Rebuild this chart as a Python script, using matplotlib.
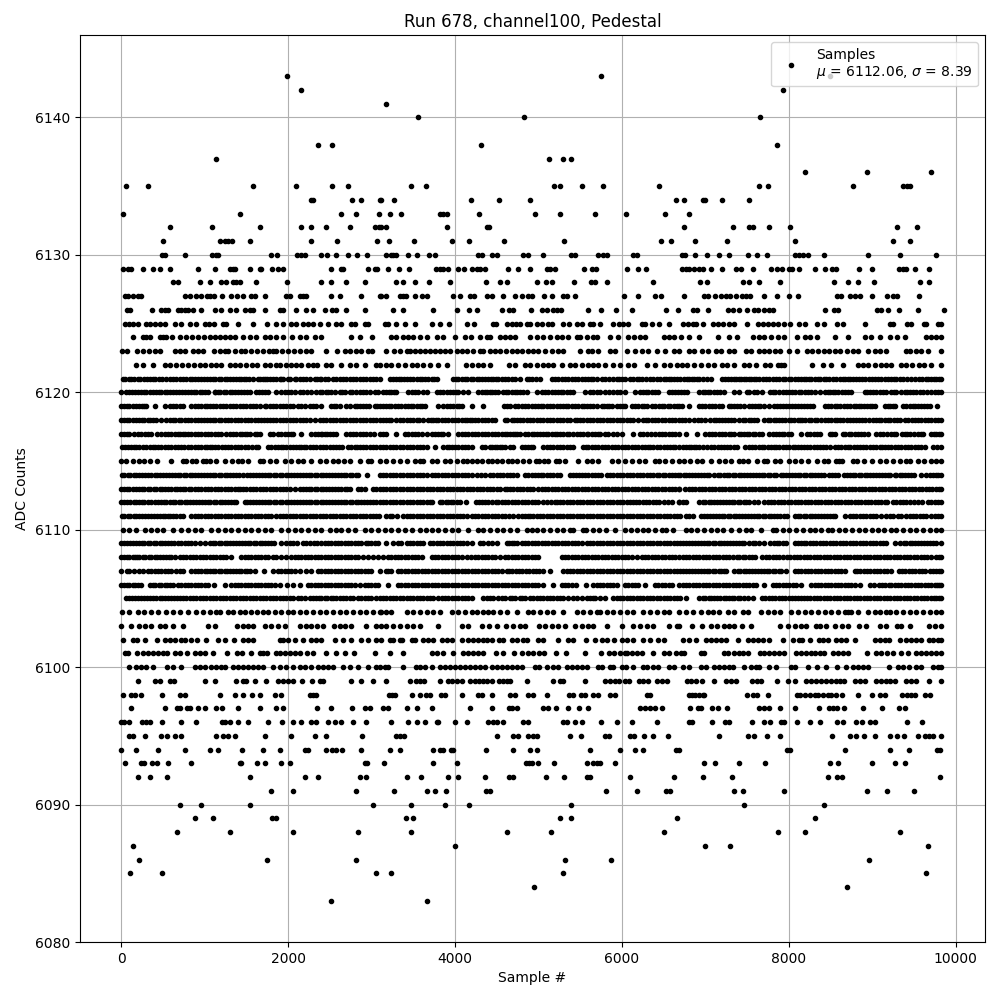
import matplotlib
matplotlib.use("Agg")
import matplotlib.pyplot as plt

# Visible dots of each ADC level, in tens of samples.
# Overlapping dots in the dense band cannot be told apart, so those rows are estimates.
SAMPLE_UNIT = 10
row_6143 = [199,575,849]
row_6142 = [216,793]
row_6141 = [317]
row_6140 = [356,483,766]
row_6138 = [236,253,431,786]
row_6137 = [114,513,530,539]
row_6136 = [819,894,970]
row_6135 = [6,32,158,210,253,272,347,365,519,526,552,578,645,765,775,877,937,942,946]
row_6134 = [227,230,277,288,310,312,327,419,453,490,665,674,697,700,720,753]
row_6133 = [2,143,263,282,309,322,335,382,386,391,429,496,526,568,605,652,680]
row_6132 = [58,109,167,216,227,246,274,304,309,312,318,390,438,441,675,733,752,757,777,802,930,954]
row_6131 = [50,119,124,128,133,155,227,259,307,321,351,396,417,459,531,647,659,688,726,807,925,945]
row_6130 = [49,52,77,109,114,116,180,187,211,216,220,239,247,257,272,283,295,317,323,326,330,344,354,369,376,428,432,444,450,482,488,506,539,544,572,578,582,614,618,672,676,688,702,717,728,751,762,774,807,812,817,823,842,895,933,976]
row_6129 = [2,8,12,26,38,46,59,92,112,130,134,137,154,166,168,181,188,194,251,263,266,296,304,307,320,333,345,377,382,386,392,404,411,420,426,430,436,464,476,490,510,514,520,555,564,569,606,620,629,672,677,680,687,692,697,707,720,737,743,757,779,786,792,800,804,812,832,844,852,857,884,900,932,937,941,952,968]
row_6128 = [62,68,95,106,120,126,134,138,143,162,199,240,251,269,292,330,338,352,369,394,437,454,462,498,509,516,543,563,568,582,638,694,702,745,753,765,790,854,871,883,902,957,968]
row_6127 = [5,8,14,20,24,76,82,90,96,103,106,111,121,132,139,146,156,161,172,197,202,214,218,222,251,262,287,310,312,318,334,338,341,352,360,366,398,406,418,423,438,445,458,472,480,488,492,507,516,530,534,544,603,620,640,647,674,699,703,712,719,725,730,737,744,749,754,771,786,801,811,858,863,873,879,885,900,918,925,930,956]
row_6126 = [7,11,37,48,52,56,68,72,76,80,86,96,112,120,131,138,149,155,158,173,190,194,210,222,230,244,253,257,269,292,326,338,374,402,417,426,456,465,470,491,504,510,518,522,527,560,575,593,612,653,667,685,690,703,727,733,740,750,759,763,770,776,781,843,854,859,906,911,919,932,955,986]
row_6125 = [5,10,14,20,30,34,41,47,53,65,72,82,90,101,105,111,122,126,140,158,175,185,194,204,210,218,224,230,238,248,257,263,275,280,292,296,316,320,330,340,352,372,382,393,414,423,446,449,462,468,473,478,486,490,498,504,512,516,530,537,546,552,562,566,574,590,597,602,608,624,628,636,645,657,673,679,685,689,697,709,715,721,728,735,750,763,769,775,781,787,794,802,812,819,834,842,858,865,891,921,925,942,947,962,965,979,983]
row_6124 = [14,26,30,34,46,50,54,61,70,78,85,92,99,106,113,119,124,130,137,146,154,162,172,178,186,194,205,214,221,232,240,275,286,301,324,330,338,344,350,358,366,378,386,400,412,419,430,438,442,454,460,466,472,490,498,506,514,522,528,535,546,550,558,566,570,586,596,608,615,622,628,650,656,662,671,681,692,715,729,738,757,764,771,779,787,795,810,819,825,834,856,871,891,899,909,921,930,939,964,971,977,983]
row_6123 = [1,7,19,26,33,40,47,65,70,76,86,92,98,111,118,124,128,136,144,149,156,163,170,177,182,186,193,200,207,214,221,228,245,259,268,274,281,288,296,301,317,327,334,342,346,352,358,364,370,376,382,388,394,402,408,414,422,430,434,442,448,454,461,469,475,481,488,494,500,508,516,524,530,550,560,564,572,586,592,606,616,624,632,642,652,662,669,681,687,696,703,713,719,728,735,749,755,764,771,777,784,790,801,810,822,828,835,842,848,855,862,870,877,883,895,903,909,917,941,945,953,959,967,983]
row_6122 = [18,26,38,52,59,66,73,80,87,94,100,108,114,120,130,136,142,150,157,163,172,179,185,190,197,203,210,216,224,230,235,245,252,263,274,282,292,306,310,318,324,332,340,348,354,362,370,380,391,413,420,428,434,442,465,472,484,490,498,506,512,518,528,538,544,552,560,566,572,580,590,598,608,615,630,640,650,658,666,672,678,687,695,703,710,720,726,735,747,753,761,772,778,787,795,791,828,841,851,865,883,889,895,903,911,917,923,935,941,948,956,962,971,983]
row_6121 = [2,9,16,23,31,38,45,49,54,62,70,74,78,85,92,99,106,113,120,127,134,141,147,153,164,170,175,182,186,190,194,202,208,210,218,226,235,240,248,254,262,270,278,286,294,302,310,322,330,336,342,350,358,364,372,378,398,404,412,419,426,432,440,446,452,460,468,478,486,492,502,516,524,532,540,548,556,560,566,576,585,594,600,610,618,624,634,642,650,656,662,670,678,684,690,697,707,720,727,735,740,746,752,758,765,773,777,785,793,800,807,815,821,827,835,842,848,857,865,871,877,884,892,900,907,915,923,929,937,947,956,964,971,977,983]
fill_6121 = [5,12,20,27,34,41,58,66,82,89,96,103,110,117,124,131,138,144,150,158,167,172,178,192,200,214,222,232,238,244,258,266,274,282,290,298,306,326,333,339,346,354,361,368,375,401,408,415,422,429,436,443,449,456,464,472,489,497,520,528,536,544,552,563,570,580,590,597,604,614,621,629,638,646,653,659,666,674,681,687,693,702,724,731,737,743,749,755,761,769,781,789,796,803,811,818,824,831,838,845,853,861,868,874,881,888,896,903,911,919,926,933,942,952,960,967,974,980]
row_6120 = [0,6,13,20,27,34,42,48,55,62,69,76,84,90,97,104,112,112,119,126,133,140,147,155,162,169,176,186,192,200,208,214,223,234,238,245,252,262,268,274,277,286,294,304,314,318,324,330,344,352,366,378,386,390,398,404,416,428,436,442,448,458,464,472,478,486,498,504,512,520,527,534,542,556,562,570,580,590,598,604,616,622,629,636,644,656,664,671,678,693,700,706,714,722,735,741,753,762,768,778,784,789,797,804,812,819,827,837,847,853,859,867,875,891,897,905,913,923,929,939,945,953,961,970,975,983]
fill_6120 = [10,17,24,30,38,45,52,59,66,73,80,87,94,101,116,123,130,137,144,151,165,172,196,204,218,228,241,248,256,265,282,290,298,308,321,327,348,356,362,382,394,401,410,432,439,445,452,461,468,475,482,508,516,523,530,538,566,574,585,594,626,632,640,660,667,675,697,703,710,718,750,758,781,793,800,808,815,823,831,843,850,856,864,871,894,901,909,917,926,935,942,949,957,966,979]
row_6119 = [0,7,14,21,28,30,41,52,58,66,74,84,92,96,100,106,114,122,130,138,146,154,162,172,178,186,194,202,212,220,226,234,240,251,258,262,270,280,286,294,304,310,318,321,328,336,344,350,358,364,380,386,394,402,408,420,434,459,466,476,484,492,500,506,514,522,530,536,544,552,558,566,576,582,588,598,604,616,624,630,640,645,651,658,666,672,680,692,700,708,716,728,734,742,752,760,766,776,786,793,800,808,815,822,829,843,847,855,862,870,878,884,890,897,903,916,922,928,937,945,949,955,962,969,978]
fill_6119 = [4,10,18,25,62,70,88,103,110,118,126,134,142,150,158,166,174,182,190,198,206,216,230,255,274,283,290,297,307,314,324,332,340,347,354,361,390,398,405,462,472,480,488,496,503,510,518,526,533,540,548,555,562,570,579,585,594,601,612,620,627,636,648,655,662,669,696,704,712,720,731,738,746,756,763,771,782,790,797,804,811,818,826,851,858,866,874,881,887,894,900,919,925,941,952,959,966]
row_6118 = [0,7,14,21,28,35,42,48,54,62,69,76,84,92,99,106,113,120,128,136,144,152,160,168,171,178,186,194,202,210,218,226,232,238,246,254,262,270,278,286,294,302,310,318,324,330,338,342,350,357,368,374,380,388,396,404,412,418,424,432,440,448,460,462,468,474,482,490,498,506,514,522,530,538,544,546,554,562,570,578,586,594,602,610,620,625,632,640,648,656,664,672,680,687,695,700,706,713,720,727,735,741,748,755,762,771,778,785,792,800,806,811,813,820,827,834,839,843,851,858,865,870,877,884,892,901,905,911,919,926,934,943,948,955,963,971,979,983]
fill_6118 = [4,10,18,25,32,38,58,65,72,80,88,96,103,110,117,124,132,140,148,156,164,175,182,190,198,206,214,222,242,250,258,266,274,282,290,298,306,314,321,334,346,354,362,371,377,384,392,400,408,415,421,428,436,444,471,478,486,494,502,510,518,526,534,550,558,566,574,582,590,598,606,614,629,636,644,652,660,668,676,691,710,717,724,731,745,752,759,775,782,789,796,803,816,824,831,847,855,862,874,881,888,896,908,915,922,930,939,952,959,967,975]
row_6117 = [0,7,10,16,24,29,36,43,48,52,60,68,74,80,84,92,100,108,116,126,134,142,148,154,160,166,178,188,192,200,206,216,228,232,239,244,250,257,270,278,286,294,303,310,318,330,340,348,356,366,372,380,386,392,404,412,420,428,436,444,452,460,466,472,478,484,492,498,506,512,520,522,530,537,542,550,558,560,568,574,580,590,600,614,622,630,640,645,652,660,668,677,690,700,704,712,720,728,735,740,746,753,760,768,777,781,788,795,803,815,822,830,838,849,855,865,868,875,883,890,895,905,913,923,929,939,945,955,961,971,977,983]
fill_6117 = [4,20,32,56,64,70,77,88,96,104,112,120,130,138,145,151,163,182,196,203,236,241,247,254,274,282,290,298,314,344,352,360,376,383,408,416,424,432,440,448,456,463,470,475,488,495,502,509,516,526,534,546,554,564,571,584,594,626,635,648,656,664,708,716,724,731,743,750,757,764,785,792,799,826,834,852,872,880,887,910,918,926,936,942,950,958,974,980]
row_6116 = [1,8,15,22,30,38,44,52,60,68,75,84,92,100,106,112,121,128,136,144,152,162,164,176,180,188,194,202,210,216,222,230,238,246,250,258,265,272,280,286,294,302,310,318,326,334,342,350,358,366,376,386,390,396,404,412,416,421,432,442,448,454,460,466,470,480,488,494,506,510,518,526,534,542,553,560,568,576,584,592,600,608,616,624,628,634,642,650,658,664,669,677,683,689,697,707,715,723,730,738,748,756,764,771,779,785,793,801,808,815,822,830,837,845,855,863,871,878,885,893,901,909,915,919,927,935,943,951,959,963,973,982]
fill_6116 = [5,12,18,26,34,41,48,56,64,72,80,88,96,103,109,116,125,132,140,148,157,184,191,198,206,213,219,226,234,242,254,261,276,283,290,298,306,314,322,330,338,346,354,362,393,400,408,436,445,451,457,484,491,514,522,530,538,557,564,572,580,588,596,604,612,620,631,638,646,654,661,673,680,686,693,702,711,719,726,734,752,760,768,775,782,789,797,805,811,818,826,834,841,849,859,867,874,882,889,897,905,912,923,931,939,947,955,978]
row_6115 = [0,6,14,22,28,35,43,60,74,78,85,90,98,102,106,114,125,133,140,145,152,166,170,178,186,196,204,212,218,228,238,245,254,260,267,274,286,296,300,310,318,326,334,342,352,358,362,372,378,388,394,402,410,414,421,426,433,440,445,451,456,464,468,475,482,489,497,501,507,512,521,525,532,547,558,564,572,588,595,604,612,621,628,640,645,652,660,668,675,682,690,696,707,716,724,731,740,745,751,762,771,774,784,790,800,808,815,823,834,842,847,857,860,864,877,882,890,900,910,917,925,933,941,946,955,962,970,977,982]
row_6114 = [1,8,15,22,29,36,43,50,57,64,71,78,85,92,99,106,113,120,127,134,141,146,151,158,165,172,179,186,193,200,207,214,221,228,235,242,249,256,263,270,277,284,295,310,318,326,334,342,350,358,366,372,380,388,396,404,412,420,426,436,442,450,458,466,474,484,492,496,503,510,518,526,538,545,552,560,568,575,582,590,598,606,614,622,630,638,645,652,660,664,670,677,684,691,698,705,711,715,722,729,736,743,750,757,764,771,778,785,791,793,800,807,814,821,828,835,842,848,855,859,866,873,880,887,894,901,908,915,922,927,929,936,943,950,959,965,977,979,983]
fill_6114 = [4,11,18,25,32,40,47,54,61,68,75,82,89,96,103,110,117,124,131,138,155,162,169,176,183,190,197,204,211,218,225,232,239,246,253,260,267,274,281,314,322,330,338,346,354,362,376,384,392,400,408,416,431,446,454,462,470,488,499,506,514,522,542,549,556,564,572,586,594,602,610,618,626,634,642,649,656,667,674,681,688,695,702,718,726,733,740,747,754,761,768,775,782,797,804,811,818,825,832,839,852,870,877,884,891,898,905,912,919,933,940,947,969,973]
row_6113 = [0,7,14,21,28,35,42,49,56,64,67,74,81,88,96,100,108,116,124,132,140,143,150,158,166,174,182,186,194,202,214,221,228,235,242,249,256,263,268,274,284,292,302,310,318,326,334,342,350,358,366,374,382,390,394,398,406,414,422,430,438,446,454,460,462,470,478,486,494,500,508,516,524,532,540,548,556,564,572,580,588,596,604,612,620,628,636,644,652,660,668,669,676,684,692,700,708,716,724,732,740,748,756,764,772,780,788,796,804,812,820,828,836,844,852,860,868,876,884,892,900,908,916,924,932,940,948,956,964,972,983]
fill_6113 = [3,10,18,25,32,39,46,52,60,70,77,84,92,104,112,120,128,136,146,154,162,170,178,190,198,208,218,225,232,239,246,253,260,271,288,306,314,322,330,338,346,354,362,370,378,386,402,410,418,426,434,442,450,466,474,482,490,504,512,520,528,536,544,552,560,568,576,584,592,600,608,616,624,632,640,648,656,664,680,688,696,704,712,720,728,736,744,752,760,768,776,784,792,800,808,816,824,832,840,848,856,864,872,880,888,896,904,912,920,928,936,944,952,960,968,976,980]
row_6112 = [0,7,15,18,25,32,40,48,51,58,65,72,79,86,93,100,107,114,121,128,135,138,148,151,158,165,172,179,186,193,200,207,214,221,228,235,242,249,256,263,270,277,284,291,298,305,310,318,322,330,338,346,354,362,370,372,382,385,392,398,406,413,425,432,440,445,452,460,468,476,484,492,500,510,520,522,530,538,546,554,562,570,578,586,594,602,610,617,625,633,641,650,660,668,669,677,692,697,704,711,718,725,732,739,746,753,763,771,779,787,795,803,811,819,827,835,843,851,859,867,875,883,891,899,907,915,918,925,933,941,950,960,967,975,983]
fill_6112 = [4,11,21,28,36,44,54,62,69,76,83,90,97,104,111,118,125,132,154,162,169,176,183,190,197,204,211,218,225,232,239,246,253,260,267,274,281,288,295,302,314,326,334,342,350,358,366,389,395,402,429,436,449,456,464,472,480,488,496,505,515,526,534,542,550,558,566,574,582,590,598,606,613,621,629,637,645,655,673,700,707,714,721,728,735,742,749,758,775,783,791,799,807,815,823,831,839,847,855,863,871,879,887,895,903,911,929,937,945,955,971,979]
row_6111 = [1,8,15,22,29,36,43,50,56,59,66,74,84,92,100,108,116,124,132,140,148,156,164,172,180,186,194,202,210,218,226,234,242,250,258,266,274,282,290,298,306,309,318,325,331,338,342,350,358,366,374,382,390,398,406,414,420,428,436,444,452,460,470,476,484,488,490,498,506,514,522,530,538,546,554,562,570,578,586,594,602,610,618,626,634,642,650,658,666,670,677,685,695,702,709,716,723,730,737,744,751,758,765,772,779,786,795,798,807,814,821,828,835,842,849,856,867,873,881,889,897,905,917,921,931,941,949,957,965,975,983]
fill_6111 = [4,11,18,25,32,39,47,53,62,70,88,96,104,112,120,128,136,144,152,160,168,176,190,198,206,214,222,230,238,246,254,262,270,278,286,294,302,322,346,354,362,370,378,386,394,402,410,424,432,440,448,456,465,480,494,502,510,518,526,534,542,550,558,566,574,582,590,598,606,614,622,630,638,646,654,662,681,699,706,713,720,727,734,741,748,755,762,769,776,783,790,811,818,825,832,839,846,853,877,885,893,901,911,925,935,945,953,961,970,979]
row_6110 = [2,9,18,29,36,43,50,62,72,80,88,96,108,116,124,132,140,148,156,164,172,180,192,200,208,216,224,232,240,250,257,264,272,280,292,300,308,316,324,332,340,348,358,365,372,380,388,396,404,416,428,434,442,450,458,466,474,486,492,498,506,514,522,530,538,542,554,557,565,573,581,592,604,611,618,625,632,640,648,653,661,677,683,690,698,707,714,721,731,741,749,755,767,781,785,793,801,809,817,825,831,839,847,852,860,868,876,884,892,900,907,914,923,929,937,945,953,961,969,977,983]
row_6109 = [0,7,14,21,28,35,42,49,56,63,68,72,80,88,94,100,106,113,120,127,134,141,148,155,162,169,176,183,192,197,206,211,218,226,231,240,248,256,264,272,280,287,293,300,308,318,326,332,342,350,354,362,370,378,386,394,402,410,420,430,434,445,450,462,468,474,480,488,496,504,512,520,528,536,544,552,558,566,574,582,590,598,606,614,622,630,638,646,654,662,670,677,684,691,698,705,712,719,726,733,740,747,753,760,770,778,783,789,797,807,815,821,829,837,845,853,861,869,877,885,893,901,909,917,927,934,941,948,955,962,969,977,983]
fill_6109 = [4,11,18,25,32,39,46,53,60,76,84,110,117,124,131,138,145,152,159,166,173,180,202,222,235,244,252,260,268,276,284,296,304,336,346,358,374,382,390,398,406,414,440,465,471,484,492,500,508,516,524,532,540,548,562,570,578,586,594,602,610,618,626,634,642,650,658,666,673,681,688,695,702,709,716,723,730,737,744,757,765,786,793,811,818,825,833,841,849,857,865,873,881,889,897,905,913,938,945,952,959,966,973]
row_6108 = [0,7,14,19,22,29,36,43,50,57,64,70,78,86,94,102,110,118,126,132,144,152,160,168,176,186,192,198,204,212,220,228,236,244,252,260,268,276,284,290,296,302,308,314,320,328,336,344,352,360,372,380,388,396,404,414,424,432,440,448,454,460,468,476,484,492,500,528,536,544,552,560,568,576,584,592,600,608,612,618,624,632,640,648,656,664,669,677,685,693,701,709,717,725,733,738,745,752,760,768,773,781,788,793,798,806,814,822,830,838,846,854,862,870,878,886,894,902,910,918,926,934,942,950,958,966,983]
fill_6108 = [3,10,17,26,33,40,47,54,60,74,82,90,98,106,114,122,148,156,164,172,182,208,216,224,232,240,248,256,264,272,280,324,332,340,348,356,376,384,392,400,409,419,428,436,444,464,472,480,488,496,532,540,548,556,564,572,580,588,596,604,628,636,644,652,660,673,681,689,697,705,713,721,729,741,748,756,777,785,802,810,818,826,834,842,850,858,866,874,882,890,898,906,914,922,930,938,946,954,962,970,976,980]
row_6107 = [0,7,10,16,22,26,32,40,48,56,60,66,74,84,92,100,106,113,120,127,134,141,148,155,160,171,182,188,196,204,214,222,228,236,244,252,260,268,276,284,292,300,310,318,320,332,340,348,356,364,372,380,388,396,404,412,420,428,436,444,452,462,465,473,481,489,497,505,514,530,538,546,554,562,570,578,586,594,602,610,618,626,634,642,650,658,666,670,677,684,691,698,705,712,719,725,735,742,749,756,763,770,777,784,791,797,807,815,823,831,839,847,855,863,868,879,882,890,898,906,914,923,932,940,948,956,963,969,977,983]
fill_6107 = [36,44,52,70,88,96,103,110,117,124,131,138,144,151,192,200,208,240,248,256,264,272,280,288,296,324,336,344,352,360,368,376,384,392,400,408,416,424,432,440,448,456,469,477,485,493,501,534,542,550,558,566,574,582,590,598,606,614,622,630,638,646,654,662,673,681,688,695,702,709,716,722,739,746,753,760,767,774,781,788,811,819,827,835,843,851,859,886,894,902,910,918,936,944,952,960,973,980]
row_6106 = [0,7,14,20,24,34,41,48,55,62,68,72,80,88,96,104,111,124,132,136,144,152,160,168,176,184,190,199,206,214,224,232,240,248,256,264,272,280,286,292,300,308,320,332,340,348,356,364,372,380,388,396,404,412,420,428,436,444,452,460,468,476,484,492,500,506,518,528,536,545,557,565,570,578,586,594,604,612,620,628,640,644,652,660,669,677,685,693,701,709,717,725,733,737,745,753,761,771,781,785,793,801,809,815,827,835,843,851,859,867,875,886,898,908,916,923,931,939,947,955,963,971,978,983]
fill_6106 = [4,10,17,38,45,52,59,76,84,92,100,140,148,156,164,172,180,228,236,244,252,260,268,276,296,304,336,344,352,360,368,376,384,392,400,408,416,424,432,440,448,456,464,472,480,488,496,532,540,574,582,590,608,616,648,656,673,681,689,697,705,713,721,729,741,749,757,789,797,805,831,839,847,855,863,871,879,902,912,920,927,935,943,951,959,967,975,980]
row_6105 = [6,13,20,27,34,42,49,56,63,70,78,86,94,102,110,118,126,134,142,150,158,166,174,182,190,198,206,212,220,226,233,240,247,254,262,270,278,284,292,300,310,318,326,334,342,350,358,366,374,380,388,396,404,412,420,434,438,446,452,460,466,472,478,484,490,498,506,514,522,530,536,542,552,558,566,568,574,580,590,598,606,614,622,630,638,646,654,662,670,677,693,700,707,714,722,728,735,742,751,757,768,776,784,792,800,808,815,818,826,834,842,850,858,866,874,882,890,898,906,914,922,930,938,946,954,962,970,977,983]
fill_6105 = [10,17,24,31,38,46,53,60,67,74,82,90,98,106,114,122,130,138,146,154,162,170,178,186,194,202,216,230,237,244,251,258,266,274,288,296,305,314,322,330,338,346,354,362,370,384,392,400,408,416,442,456,469,481,494,502,510,518,526,546,562,594,602,610,618,626,634,642,650,658,666,697,704,711,718,725,732,739,746,772,780,788,796,804,811,822,830,838,846,854,862,870,878,886,894,902,910,918,926,934,942,950,958,966,974,980]
row_6104 = [1,9,20,28,36,44,54,62,70,80,90,98,106,114,118,128,134,142,148,156,163,170,176,184,192,200,206,214,222,230,238,246,254,262,270,278,286,294,302,310,312,318,324,342,350,358,366,374,382,396,404,412,420,426,434,440,446,454,462,474,488,494,502,510,518,530,546,554,562,570,574,582,590,598,606,614,626,634,642,650,656,669,677,685,695,703,709,717,727,735,745,751,767,775,783,790,803,811,819,827,835,843,851,859,867,871,875,883,895,903,909,917,921,929,937,945,953,961,969,977,983]
row_6103 = [0,12,22,29,36,46,53,62,74,104,112,139,146,152,158,173,180,188,196,214,221,228,235,242,255,262,268,276,294,306,312,318,326,334,342,350,358,380,408,416,432,441,450,461,470,478,484,501,508,516,524,532,544,552,560,566,582,600,614,622,630,638,656,666,669,684,696,707,714,722,729,735,744,755,790,799,807,815,821,833,837,845,856,864,871,884,893,909,917,930,935,945,968,975,982]
row_6102 = [2,14,19,29,43,53,58,64,72,76,84,91,102,116,125,135,146,152,158,190,194,200,208,218,227,233,239,256,266,276,287,296,306,312,322,326,334,337,348,352,362,368,374,384,390,396,408,416,422,428,434,438,444,453,458,468,474,482,486,500,506,524,536,542,557,568,576,582,591,600,606,614,626,634,644,651,673,681,689,701,707,713,719,725,739,751,757,763,769,777,793,805,812,816,826,836,841,847,857,863,869,880,904,909,915,920,933,941,947,953,958,968,973,979,983]
row_6101 = [5,8,19,26,32,38,44,50,55,64,70,79,89,94,100,110,127,139,145,156,166,170,175,185,190,196,202,208,214,223,230,246,257,268,279,304,322,338,372,378,386,398,410,416,422,428,434,449,458,471,481,488,494,501,507,521,533,556,575,585,591,598,604,606,612,618,624,638,650,656,665,671,675,695,699,723,727,734,740,745,751,766,771,777,783,789,795,809,815,821,827,832,837,842,853,859,865,871,894,905,911,918,925,935,943,953,959,965,971,977,983]
row_6100 = [9,18,24,30,38,55,62,72,88,95,100,108,114,120,125,134,140,146,152,158,164,170,182,190,197,206,214,220,227,236,242,248,254,266,274,284,296,306,310,316,320,338,353,358,364,372,382,388,394,400,406,412,418,424,430,436,444,450,456,462,468,474,480,496,501,510,518,524,534,540,546,552,558,572,576,586,590,600,605,614,626,630,638,644,657,663,673,681,695,701,711,717,723,729,733,747,755,761,765,777,785,803,807,823,834,845,858,869,877,883,889,895,920,931,937,944,953,959,973,979,983]
row_6099 = [20,40,46,58,63,101,112,138,146,150,160,174,188,194,200,206,217,229,238,242,276,288,302,318,346,353,358,363,382,392,396,402,408,424,418,429,434,438,444,453,458,462,466,486,518,526,530,556,580,586,592,597,604,609,621,626,631,642,648,654,678,683,689,696,711,725,731,737,756,762,767,786,799,808,821,827,833,839,845,851,857,861,866,880,886,891,905,911,917,922,927,941,947,953,968,982]
row_6098 = [2,12,17,24,49,70,77,119,136,146,157,167,184,192,226,230,234,321,325,328,348,358,365,370,383,388,408,428,432,444,466,472,488,494,510,537,542,551,556,566,572,586,592,630,634,684,681,688,692,697,699,750,757,762,775,810,814,820,825,831,835,841,847,851,857,864,883,900,909,916,936,942,947,952,963,969]
row_6097 = [12,52,67,70,79,83,92,100,114,121,140,167,185,194,235,251,277,292,298,314,320,342,354,372,418,444,465,468,474,506,512,521,536,549,560,622,628,634,640,648,682,691,695,708,715,726,765,771,776,790,808,836,848,853,858,866,889,912,932,939]
row_6096 = [0,4,9,25,30,34,49,72,90,121,124,130,140,152,176,193,206,216,228,233,248,256,263,278,293,324,344,354,364,378,380,400,414,440,446,450,458,482,488,530,534,544,552,575,594,612,642,680,684,708,724,728,756,771,778,791,795,810,825,838,858,865,881,888,898,903,942,960]
row_6095 = [10,14,29,48,55,64,72,114,122,128,137,173,204,232,245,289,330,334,339,450,470,476,488,494,498,538,551,580,585,610,615,627,638,655,717,751,758,774,790,852,874,881,890,903,921,930,938,955,963,968,973,982]
row_6094 = [0,18,44,77,106,116,145,170,190,220,224,246,253,258,265,287,322,334,374,382,386,395,398,437,470,490,498,562,598,616,626,665,668,798,802,868,922,944,978,981]
row_6093 = [5,24,27,37,43,56,84,142,144,163,173,192,202,292,295,315,374,402,485,489,492,500,519,558,566,570,574,592,698,712,741,772,850,859,900,927,940]
row_6092 = [20,34,55,155,220,236,286,293,342,359,392,404,436,465,470,509,531,558,562,610,663,697,732,847,858,864,981]
row_6091 = [180,206,281,327,366,376,389,437,442,581,618,653,658,735,745,795,894,918,950]
row_6090 = [71,96,155,302,347,388,417,539,747,842]
row_6089 = [88,110,181,186,341,350,526,539,666,832]
row_6088 = [67,131,206,284,347,462,515,651,787,820,934]
row_6087 = [14,400,700,730,967]
row_6086 = [22,175,281,532,587,896]
row_6085 = [11,49,306,323,530,964]
row_6084 = [495,870]
row_6083 = [252,366]

ADC_LEVELS = {
    6143: row_6143, 6142: row_6142, 6141: row_6141, 6140: row_6140, 6138: row_6138,
    6137: row_6137, 6136: row_6136, 6135: row_6135, 6134: row_6134, 6133: row_6133,
    6132: row_6132, 6131: row_6131, 6130: row_6130, 6129: row_6129, 6128: row_6128,
    6127: row_6127, 6126: row_6126, 6125: row_6125, 6124: row_6124, 6123: row_6123,
    6122: row_6122, 6121: row_6121 + fill_6121, 6120: row_6120 + fill_6120,
    6119: row_6119 + fill_6119, 6118: row_6118 + fill_6118, 6117: row_6117 + fill_6117,
    6116: row_6116 + fill_6116, 6115: row_6115, 6114: row_6114 + fill_6114,
    6113: row_6113 + fill_6113, 6112: row_6112 + fill_6112, 6111: row_6111 + fill_6111,
    6110: row_6110, 6109: row_6109 + fill_6109, 6108: row_6108 + fill_6108,
    6107: row_6107 + fill_6107, 6106: row_6106 + fill_6106, 6105: row_6105 + fill_6105,
    6104: row_6104, 6103: row_6103, 6102: row_6102, 6101: row_6101, 6100: row_6100,
    6099: row_6099, 6098: row_6098, 6097: row_6097, 6096: row_6096, 6095: row_6095,
    6094: row_6094, 6093: row_6093, 6092: row_6092, 6091: row_6091, 6090: row_6090,
    6089: row_6089, 6088: row_6088, 6087: row_6087, 6086: row_6086, 6085: row_6085,
    6084: row_6084, 6083: row_6083,
}

samples = []
counts = []
for level, row in ADC_LEVELS.items():
    samples.extend(v * SAMPLE_UNIT for v in row)
    counts.extend([level] * len(row))

fig, ax = plt.subplots(figsize=(10, 10), dpi=100)
ax.plot(samples, counts, "k.", label="Samples\n$\\mu$ = 6112.06, $\\sigma$ = 8.39")
ax.set_title("Run 678, channel100, Pedestal")
ax.set_xlabel("Sample #")
ax.set_ylabel("ADC Counts")
ax.set_ylim(6080, 6146)
ax.grid(True)
ax.legend(loc="upper right")
fig.subplots_adjust(left=0.08, right=0.985, top=0.965, bottom=0.058)
fig.savefig("out.png", dpi=100)
